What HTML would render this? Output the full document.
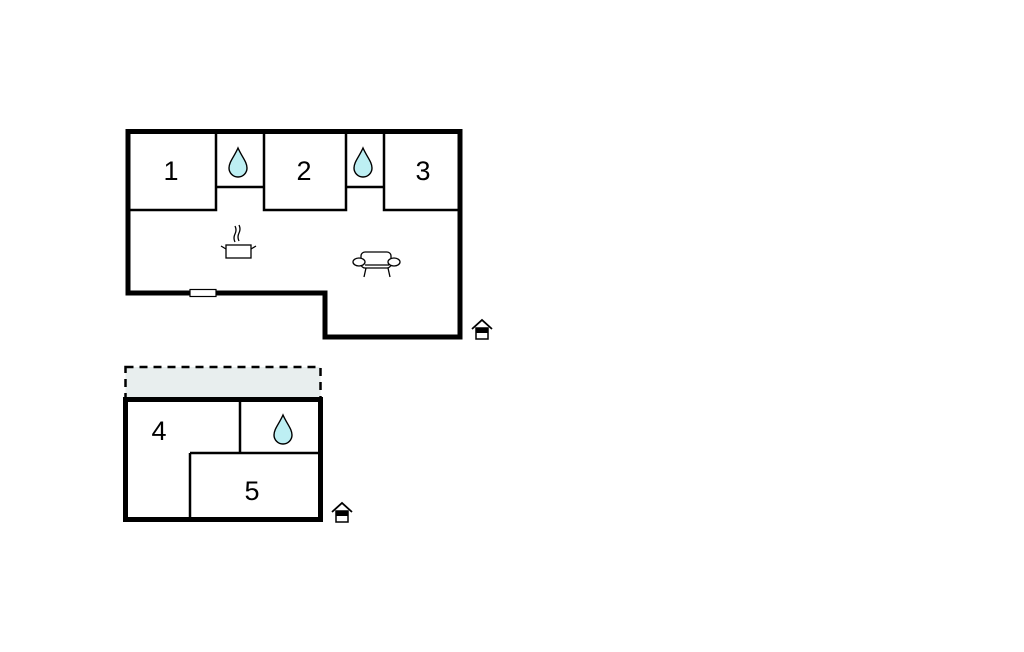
<!DOCTYPE html>
<html><head><style>body{margin:0;background:#fff}svg{display:block}</style></head><body>
<svg width="1024" height="652" viewBox="0 0 1024 652" xmlns="http://www.w3.org/2000/svg" font-family="Liberation Sans, sans-serif">
<defs>
<g id="drop"><path d="M0,-15 C-4,-6 -9,-1 -9,5 A9,9 0 0 0 9,5 C9,-1 4,-6 0,-15Z" fill="#bdeff3" stroke="#000" stroke-width="1.4"/></g>
<g id="house"><path d="M-10,0 L0,-9 L10,0" fill="none" stroke="#000" stroke-width="1.8"/><rect x="-6" y="-1" width="12" height="11" fill="#fff" stroke="#000" stroke-width="1.5"/><rect x="-6" y="-1" width="12" height="5" fill="#000"/></g>
</defs>
<!-- top plan inner walls -->
<g stroke="#000" stroke-width="2.5" fill="none">
<path d="M128,210 H216 V131"/>
<path d="M216,187 H264"/>
<path d="M264,131 V210 H346 V131"/>
<path d="M346,187 H384"/>
<path d="M384,131 V210 H460"/>
</g>
<path d="M128,131.5 H460 V337 H325 V293 H128 Z" fill="none" stroke="#000" stroke-width="5"/>
<rect x="190" y="289.5" width="26" height="7" fill="#fff" stroke="#000" stroke-width="1.2"/>
<g font-size="27" text-anchor="middle">
<text x="171" y="180">1</text><text x="304" y="180">2</text><text x="423" y="180">3</text>
</g>
<use href="#drop" x="238" y="163"/>
<use href="#drop" x="363" y="163"/>
<!-- pot -->
<g stroke="#000" stroke-width="1.3" fill="none">
<rect x="226" y="245" width="25" height="13" fill="#fff"/>
<path d="M221,246 L226,249 M256,246 L251,249"/>
<path d="M235,242 q-2,-4 0,-8 q2,-4 0,-8 M239,241 q-2,-4 0,-8 q2,-4 0,-8"/>
</g>
<!-- sofa -->
<g stroke="#000" stroke-width="1.3" fill="#fff">
<rect x="361" y="252" width="30" height="16" rx="4"/>
<ellipse cx="359" cy="262" rx="6" ry="4"/>
<ellipse cx="394" cy="262" rx="6" ry="4"/>
<path d="M365,265 H389 M366,268 L364,277 M388,268 L390,277" fill="none"/>
</g>
<use href="#house" x="482" y="329"/>
<!-- bottom plan -->
<rect x="125.5" y="367" width="195" height="32" fill="#e8eeee" stroke="#000" stroke-width="2.5" stroke-dasharray="8,6"/>
<g stroke="#000" stroke-width="2.5" fill="none">
<path d="M240,399 V453 M190,453 H320 M190,453 V520"/>
</g>
<rect x="125.5" y="399.5" width="195" height="120" fill="none" stroke="#000" stroke-width="5"/>
<g font-size="27" text-anchor="middle">
<text x="159" y="440">4</text><text x="252" y="500">5</text>
</g>
<use href="#drop" x="283" y="430"/>
<use href="#house" x="342" y="512"/>
</svg>
</body></html>
